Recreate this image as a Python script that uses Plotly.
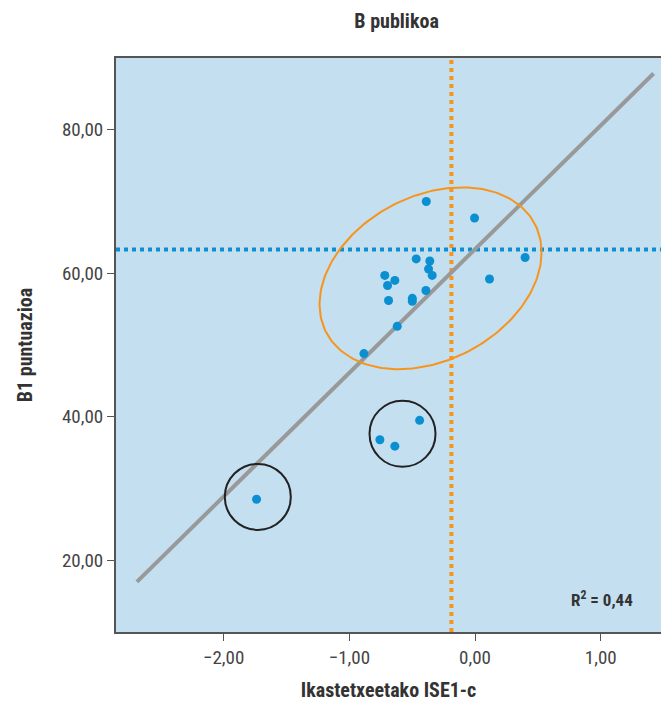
import numpy as np
import plotly.graph_objects as go

# ---- data ----
ise_x = [-0.388, -0.004, 0.398, -0.468, -0.360, -0.370, -0.341, 0.115, -0.718, -0.638,
         -0.696, -0.391, -0.688, -0.499, -0.499, -0.619, -0.884, -0.441, -0.757, -0.638, -1.738]
b1_y = [70.0, 67.7, 62.2, 62.0, 61.7, 60.6, 59.7, 59.2, 59.7, 59.0,
        58.3, 57.6, 56.2, 56.5, 56.1, 52.6, 48.8, 39.5, 36.8, 35.9, 28.5]

fit_intercept = 63.36
fit_slope = 17.24
fit_x_range = [-2.69, 1.42]

mean_x = -0.188
mean_y = 63.3

x_tick_vals = [-2, -1, 0, 1]
x_tick_text = ["\u22122,00", "\u22121,00", "0,00", "1,00"]
y_tick_vals = [20, 40, 60, 80]
y_tick_text = ["20,00", "40,00", "60,00", "80,00"]

r2_text = "R<sup>2</sup> = 0,44"

# orange ellipse (center, std-devs, correlation)
ell_center = [-0.354, 59.3]
ell_sd = [0.883, 12.67]
ell_rho = 0.286

# black circles around outliers (center x, center y)
circ_centers = [[-1.728, 28.83], [-0.577, 37.63]]
circ_r = [0.2625, 4.6]

FONT = "Liberation Sans Narrow, Roboto Condensed, Roboto, sans-serif"
BLUE = "#0a8fd1"
ORANGE = "#f7941d"

fig = go.Figure()

# regression line
fx = np.array(fit_x_range)
fig.add_trace(go.Scatter(x=fx, y=fit_intercept + fit_slope * fx, mode="lines",
                         line=dict(color="#999999", width=4), hoverinfo="skip"))

# orange ellipse
t = np.linspace(0, 2 * np.pi, 200)
ex = ell_center[0] + ell_sd[0] * np.cos(t)
ey = ell_center[1] + ell_sd[1] * (ell_rho * np.cos(t) + np.sqrt(1 - ell_rho ** 2) * np.sin(t))
fig.add_trace(go.Scatter(x=ex, y=ey, mode="lines", line=dict(color=ORANGE, width=2),
                         hoverinfo="skip"))

# points
fig.add_trace(go.Scatter(x=ise_x, y=b1_y, mode="markers",
                         marker=dict(color=BLUE, size=9, line=dict(width=0))))

# reference lines
fig.add_shape(type="line", xref="x", yref="paper", x0=mean_x, x1=mean_x, y0=0, y1=1,
              line=dict(color=ORANGE, width=4, dash="dot"), layer="below")
fig.add_shape(type="line", xref="paper", yref="y", x0=0, x1=1, y0=mean_y, y1=mean_y,
              line=dict(color=BLUE, width=4, dash="dot"), layer="below")

for cx, cy in circ_centers:
    fig.add_shape(type="circle", xref="x", yref="y",
                  x0=cx - circ_r[0], x1=cx + circ_r[0], y0=cy - circ_r[1], y1=cy + circ_r[1],
                  line=dict(color="#222222", width=2))

fig.add_annotation(x=0.952, y=0.035, xref="paper", yref="paper", text=r2_text,
                   showarrow=False, xanchor="right", yanchor="bottom",
                   font=dict(family=FONT, size=17, color="#333333", weight="bold"))

fig.update_layout(
    width=661, height=704,
    margin=dict(l=116, r=0, t=58, b=72),
    paper_bgcolor="white",
    plot_bgcolor="#c4dff0",
    showlegend=False,
    title=dict(text="<b>B publikoa</b>", x=0.6, xanchor="center", y=0.97, yanchor="middle",
               font=dict(family=FONT, size=20, color="#333333")),
    xaxis=dict(range=[-2.856, 1.479], tickvals=x_tick_vals, ticktext=x_tick_text,
               showgrid=False, zeroline=False, showline=True, linecolor="#555555", linewidth=2,
               mirror=True, ticks="outside", ticklen=7, tickcolor="#555555", tickwidth=1,
               tickfont=dict(family=FONT, size=19, color="#444444"),
               title=dict(text="<b>Ikastetxeetako ISE1-c</b>", standoff=15,
                          font=dict(family=FONT, size=20, color="#333333"))),
    yaxis=dict(range=[10, 90], tickvals=y_tick_vals, ticktext=y_tick_text,
               showgrid=False, zeroline=False, showline=True, linecolor="#555555", linewidth=2,
               ticks="outside", ticklen=7, tickcolor="#555555", tickwidth=1,
               tickfont=dict(family=FONT, size=19, color="#444444"),
               title=dict(text="<b>B1 puntuazioa</b>", standoff=24,
                          font=dict(family=FONT, size=20, color="#333333"))),
)

fig.write_html("out.html", config={"displayModeBar": False})

# remove default page margins so the figure sits at the window's origin
with open("out.html", encoding="utf-8") as f:
    html = f.read()
html = html.replace("<head>", "<head><style>html,body{margin:0;padding:0;overflow:hidden;}</style>", 1)
with open("out.html", "w", encoding="utf-8") as f:
    f.write(html)
